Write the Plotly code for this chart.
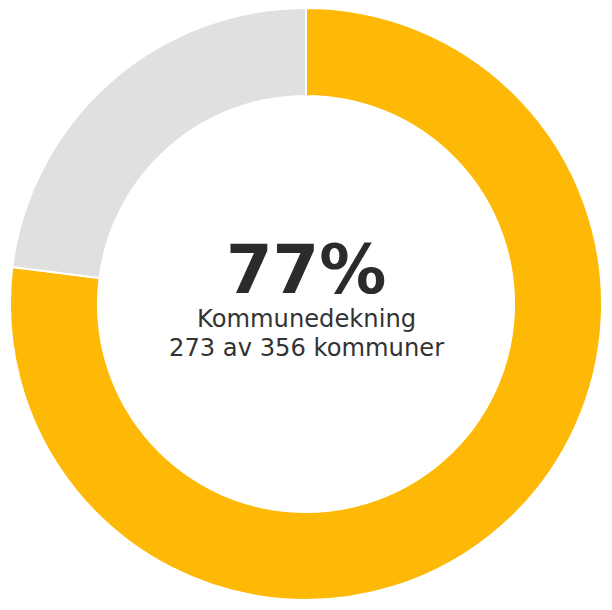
import plotly.graph_objects as go

labels = ["Med dekning", "Uten dekning"]
values = [77, 23]
colors = ["#FDB905", "#E0E0E0"]

fig = go.Figure()
fig.add_trace(go.Pie(
    labels=labels,
    values=values,
    hole=0.703,
    sort=False,
    direction="clockwise",
    rotation=0,
    textinfo="none",
    hoverinfo="skip",
    marker=dict(colors=colors, line=dict(color="white", width=2)),
    domain=dict(x=[0, 1], y=[0, 1]),
))

font_family = "DejaVu Sans"
fig.add_annotation(text="<b>77%</b>", x=0.5, y=0.557, xref="paper", yref="paper", showarrow=False,
                   font=dict(family=font_family, size=67, color="#2b2b2b"))
fig.add_annotation(text="Kommunedekning", x=0.5, y=0.474, xref="paper", yref="paper", showarrow=False,
                   font=dict(family=font_family, size=24.2, color="#333333"))
fig.add_annotation(text="273 av 356 kommuner", x=0.5, y=0.425, xref="paper", yref="paper", showarrow=False,
                   font=dict(family=font_family, size=24.2, color="#333333"))

fig.update_layout(
    width=612,
    height=610,
    showlegend=False,
    paper_bgcolor="white",
    margin=dict(l=2, r=18, t=0, b=18),
)

fig.write_html("out.html")
